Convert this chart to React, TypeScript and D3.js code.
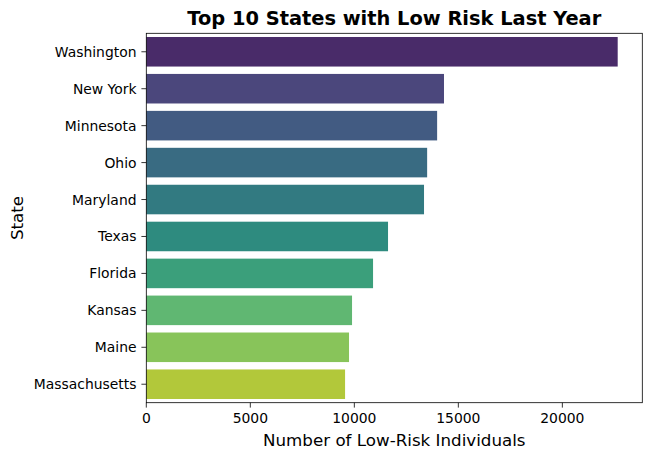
import React from 'react';
import * as d3 from 'd3';

const states = ['Washington', 'New York', 'Minnesota', 'Ohio', 'Maryland', 'Texas', 'Florida', 'Kansas', 'Maine', 'Massachusetts'];
const lowRisk = [22660, 14310, 13980, 13500, 13350, 11620, 10900, 9890, 9745, 9555];
const xTicks = [0, 5000, 10000, 15000, 20000];

const W = 651;
const H = 460;
const margin = { top: 33.3, right: 8.7, bottom: 57.3, left: 146.3 };
const FONT = 'DejaVu Sans, sans-serif';

// seaborn-style viridis palette, desaturated to 0.75
const palette = states.map((_, i) => {
    const c = d3.hsl(d3.interpolateViridis((i + 1) / (states.length + 1)));
    c.s *= 0.75;
    return c.formatHex();
});

export default function App() {
    const innerW = W - margin.left - margin.right;
    const innerH = H - margin.top - margin.bottom;

    const x = d3.scaleLinear()
        .domain([0, d3.max(lowRisk)! * 1.0522])
        .range([0, innerW]);

    const y = d3.scaleBand()
        .domain(states)
        .range([0, innerH])
        .paddingInner(0.2)
        .paddingOuter(0.1);

    return (
        <div style={{ position: 'absolute', left: 0, top: 0 }}>
            <svg width={W} height={H} style={{ display: 'block', background: '#fff' }}>
                <text
                    x={margin.left + innerW / 2}
                    y={24.5}
                    textAnchor="middle"
                    fontFamily={FONT}
                    fontWeight="bold"
                    fontSize={19.4}
                    fill="#000"
                >
                    Top 10 States with Low Risk Last Year
                </text>

                <g transform={`translate(${margin.left},${margin.top})`}>
                    {states.map((s, i) => (
                        <rect
                            key={s}
                            x={x(0)}
                            y={y(s)}
                            width={x(lowRisk[i]) - x(0)}
                            height={y.bandwidth()}
                            fill={palette[i]}
                        />
                    ))}

                    {/* y ticks */}
                    {states.map(s => {
                        const cy = y(s)! + y.bandwidth() / 2;
                        return (
                            <g key={s} transform={`translate(0,${cy})`}>
                                <line x1={-4.9} x2={0} stroke="#000" strokeWidth={0.8} />
                                <text
                                    x={-9.8}
                                    dy="0.36em"
                                    textAnchor="end"
                                    fontFamily={FONT}
                                    fontSize={13.9}
                                    fill="#000"
                                >
                                    {s}
                                </text>
                            </g>
                        );
                    })}

                    {/* x ticks */}
                    {xTicks.map(t => (
                        <g key={t} transform={`translate(${x(t)},${innerH})`}>
                            <line y1={0} y2={4.9} stroke="#000" strokeWidth={0.8} />
                            <text
                                y={20.6}
                                textAnchor="middle"
                                fontFamily={FONT}
                                fontSize={13.9}
                                fill="#000"
                            >
                                {t}
                            </text>
                        </g>
                    ))}

                    <rect
                        x={0}
                        y={0}
                        width={innerW}
                        height={innerH}
                        fill="none"
                        stroke="#000"
                        strokeWidth={0.8}
                    />
                </g>

                <text
                    x={margin.left + innerW / 2}
                    y={445.7}
                    textAnchor="middle"
                    fontFamily={FONT}
                    fontSize={16.7}
                    fill="#000"
                >
                    Number of Low-Risk Individuals
                </text>

                <text
                    transform={`translate(23.3,${margin.top + innerH / 2}) rotate(-90)`}
                    textAnchor="middle"
                    fontFamily={FONT}
                    fontSize={16.7}
                    fill="#000"
                >
                    State
                </text>
            </svg>
        </div>
    );
}
